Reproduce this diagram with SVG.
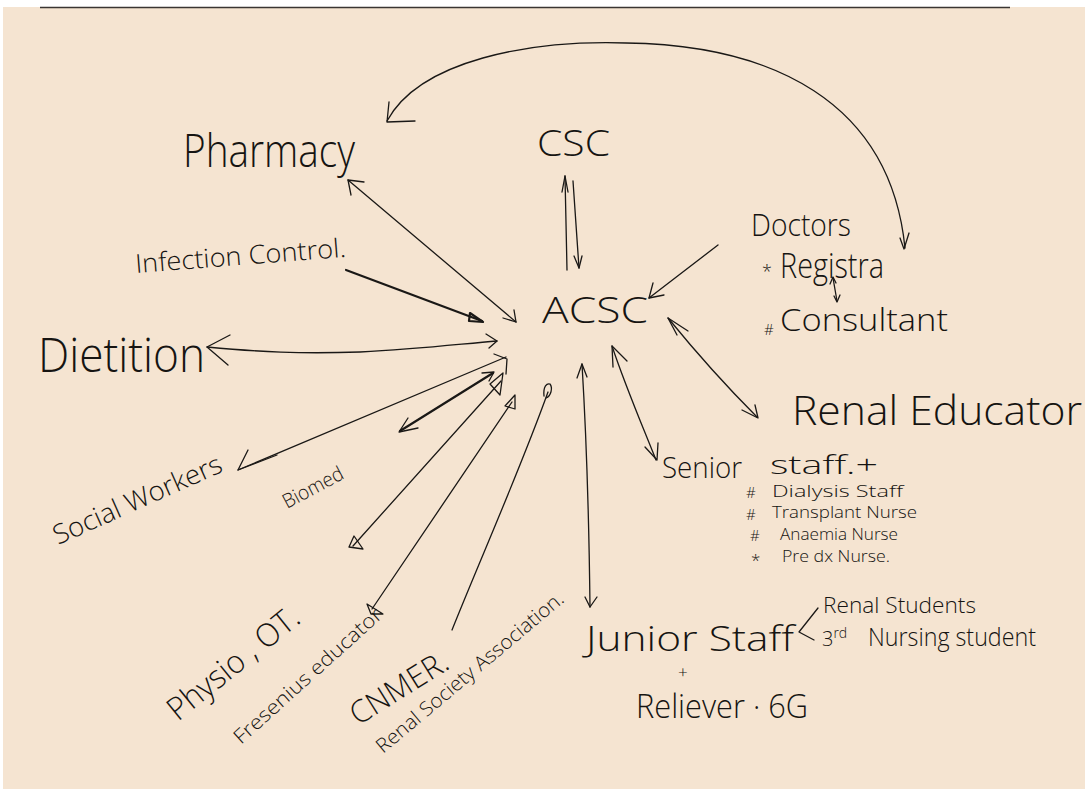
<svg xmlns="http://www.w3.org/2000/svg" width="1085" height="789" viewBox="0 0 1085 789">
  <style>
    .ink { fill: #161412; font-family: "Open Sans", "Liberation Sans", sans-serif; font-weight: 300; }
    .ln { fill: none; stroke: #1a1816; stroke-width: 1.3; stroke-linecap: round; stroke-linejoin: round; }
    .bold { stroke-width: 2.2; }
  </style>

  <!-- paper -->
  <rect x="0" y="0" width="1085" height="789" fill="#ffffff"/>
  <rect x="3" y="7" width="1082" height="782" fill="#f5e4d1"/>
  <line x1="40" y1="7.5" x2="1010" y2="7.5" stroke="#3a3532" stroke-width="1.5"/>

  <!-- connectors -->
  <g id="connectors">
    <!-- long arc between Pharmacy side and Doctors -->
    <path class="ln" d="M387,121 C420,60 530,40 626,43 C770,45 890,100 905,248"/>
    <path class="ln" d="M389,102 L387,122 L415,121"/>
    <path class="ln" d="M900,238 L904,249 L909,233"/>

    <!-- CSC / ACSC pair -->
    <path class="ln" d="M567,270 L565,176"/>
    <path class="ln" d="M562,192 L565,176 L568,192"/>
    <path class="ln" d="M573,181 L579,268"/>
    <path class="ln" d="M574,256 L579,268 L582,256"/>

    <!-- Pharmacy -->
    <path class="ln" d="M348,180 L516,322"/>
    <path class="ln" d="M364,182 L348,180 L351,195"/>
    <path class="ln" d="M503,318 L516,322 L514,310"/>

    <!-- Infection Control -->
    <path class="ln bold" d="M346,270 L482,321"/>
    <path class="ln bold" d="M470,313 L483,322 L469,321 Z"/>

    <!-- Dietition -->
    <path class="ln" d="M207,347 C260,352 300,354 360,352 C420,349 460,344 497,341"/>
    <path class="ln" d="M230,335 L207,347 L228,365"/>
    <path class="ln" d="M486,334 L497,341 L489,348"/>

    <!-- Social Workers -->
    <path class="ln" d="M238,470 L506,357"/>
    <path class="ln" d="M248,450 L238,470 L277,455"/>
    <path class="ln" d="M494,354 L507,359 L506,374"/>

    <!-- Biomed -->
    <path class="ln bold" d="M400,431 L493,373"/>
    <path class="ln" d="M408,418 L399,432 L418,428"/>
    <path class="ln" d="M482,373 L494,372 L489,381"/>

    <!-- Physio, OT -->
    <path class="ln" d="M353,546 L501,381"/>
    <path class="ln" d="M349,547 L354,536 L363,549 Z"/>
    <path class="ln" d="M490,384 L503,373 L500,395 Z"/>

    <!-- Fresenius educator -->
    <path class="ln" d="M372,609 L512,402"/>
    <path class="ln" d="M367,604 L383,614 L371,614 Z"/>
    <path class="ln" d="M505,406 L515,395 L515,409 Z"/>

    <!-- CNMER -->
    <path class="ln" d="M452,630 C480,560 520,470 548,392"/>
    <path class="ln" d="M544,396 C543,386 547,383 550,384 C553,388 551,396 546,398"/>

    <!-- Junior Staff -->
    <path class="ln" d="M582,364 C586,430 589,520 590,607"/>
    <path class="ln" d="M577,378 L582,364 L587,377"/>
    <path class="ln" d="M585,597 L590,607 L597,597"/>

    <!-- Senior staff -->
    <path class="ln" d="M612,346 C625,385 640,420 656,460"/>
    <path class="ln" d="M613,367 L612,346 L627,361"/>
    <path class="ln" d="M645,447 L657,460 L658,443"/>

    <!-- Renal Educator -->
    <path class="ln" d="M668,318 C690,345 720,380 757,417"/>
    <path class="ln" d="M677,335 L668,318 L688,331"/>
    <path class="ln" d="M742,410 L758,418 L755,405"/>

    <!-- Doctors -->
    <path class="ln" d="M718,245 L649,298"/>
    <path class="ln" d="M653,283 L649,298 L664,295"/>

    <!-- Registra / Consultant -->
    <path class="ln" d="M833,278 L837,301"/>
    <path class="ln" d="M830,284 L833,277 L836,283"/>
    <path class="ln" d="M834,296 L837,302 L840,295"/>

    <!-- Junior Staff branch -->
    <path class="ln" d="M818,608 L799,632 L814,640"/>
  </g>

  <!-- central node -->
  <g id="acsc">
    <text class="ink" x="542" y="323" font-size="37" textLength="106" lengthAdjust="spacingAndGlyphs">ACSC</text>
  </g>

  <g id="csc">
    <text class="ink" x="537" y="156" font-size="36" textLength="73" lengthAdjust="spacingAndGlyphs">CSC</text>
  </g>

  <g id="pharmacy">
    <text class="ink" x="183" y="167" font-size="46" textLength="172" lengthAdjust="spacingAndGlyphs">Pharmacy</text>
  </g>

  <g id="doctors">
    <text class="ink" x="751" y="236" font-size="31" textLength="100" lengthAdjust="spacingAndGlyphs">Doctors</text>
    <text class="ink" x="762" y="278" font-size="18">*</text>
    <text class="ink" x="780" y="278" font-size="34" textLength="104" lengthAdjust="spacingAndGlyphs">Registra</text>
    <text class="ink" x="764" y="335" font-size="15">#</text>
    <text class="ink" x="780" y="331" font-size="31" textLength="168" lengthAdjust="spacingAndGlyphs">Consultant</text>
  </g>

  <g id="infection-control">
    <text class="ink" x="136" y="273" font-size="26" textLength="211" lengthAdjust="spacingAndGlyphs" transform="rotate(-4.4 136 273)">Infection Control.</text>
  </g>

  <g id="dietition">
    <text class="ink" x="38" y="372" font-size="48" textLength="167" lengthAdjust="spacingAndGlyphs">Dietition</text>
  </g>

  <g id="renal-educator">
    <text class="ink" x="792" y="425" font-size="40" textLength="290" lengthAdjust="spacingAndGlyphs">Renal Educator</text>
  </g>

  <g id="senior-staff">
    <text class="ink" x="662" y="478" font-size="29" textLength="80" lengthAdjust="spacingAndGlyphs">Senior</text>
    <text class="ink" x="770" y="474" font-size="26" textLength="108" lengthAdjust="spacingAndGlyphs">staff.+</text>
    <text class="ink" x="746" y="498" font-size="15">#</text>
    <text class="ink" x="772" y="497" font-size="16" textLength="131" lengthAdjust="spacingAndGlyphs">Dialysis Staff</text>
    <text class="ink" x="746" y="520" font-size="15">#</text>
    <text class="ink" x="772" y="518" font-size="16" textLength="145" lengthAdjust="spacingAndGlyphs">Transplant Nurse</text>
    <text class="ink" x="750" y="541" font-size="15">#</text>
    <text class="ink" x="780" y="540" font-size="16" textLength="118" lengthAdjust="spacingAndGlyphs">Anaemia Nurse</text>
    <text class="ink" x="751" y="566" font-size="17">*</text>
    <text class="ink" x="782" y="562" font-size="16" textLength="108" lengthAdjust="spacingAndGlyphs">Pre dx Nurse.</text>
  </g>

  <g id="social-workers">
    <text class="ink" x="58" y="545" font-size="27" textLength="182" lengthAdjust="spacingAndGlyphs" transform="rotate(-24 58 545)">Social Workers</text>
  </g>

  <g id="biomed">
    <text class="ink" x="287" y="509" font-size="20" textLength="66" lengthAdjust="spacingAndGlyphs" transform="rotate(-28 287 509)">Biomed</text>
  </g>

  <g id="physio-ot">
    <text class="ink" x="178" y="722" font-size="32" textLength="160" lengthAdjust="spacingAndGlyphs" transform="rotate(-39 178 722)">Physio , OT.</text>
  </g>

  <g id="fresenius">
    <text class="ink" x="241" y="745" font-size="20" textLength="192" lengthAdjust="spacingAndGlyphs" transform="rotate(-42 241 745)">Fresenius educator</text>
  </g>

  <g id="cnmer">
    <text class="ink" x="358" y="726" font-size="31" textLength="110" lengthAdjust="spacingAndGlyphs" transform="rotate(-32 358 726)">CNMER.</text>
    <text class="ink" x="383" y="754" font-size="20" textLength="238" lengthAdjust="spacingAndGlyphs" transform="rotate(-40 383 754)">Renal Society Association.</text>
  </g>

  <g id="junior-staff">
    <text class="ink" x="586" y="651" font-size="35" textLength="208" lengthAdjust="spacingAndGlyphs">Junior Staff</text>
    <text class="ink" x="823" y="613" font-size="22" textLength="153" lengthAdjust="spacingAndGlyphs">Renal Students</text>
    <text class="ink" x="822" y="646" font-size="20">3<tspan font-size="14" dy="-8">rd</tspan></text>
    <text class="ink" x="868" y="646" font-size="25" textLength="168" lengthAdjust="spacingAndGlyphs">Nursing student</text>
    <text class="ink" x="678" y="678" font-size="17">+</text>
    <text class="ink" x="636" y="718" font-size="33" textLength="172" lengthAdjust="spacingAndGlyphs">Reliever · 6G</text>
  </g>
</svg>
